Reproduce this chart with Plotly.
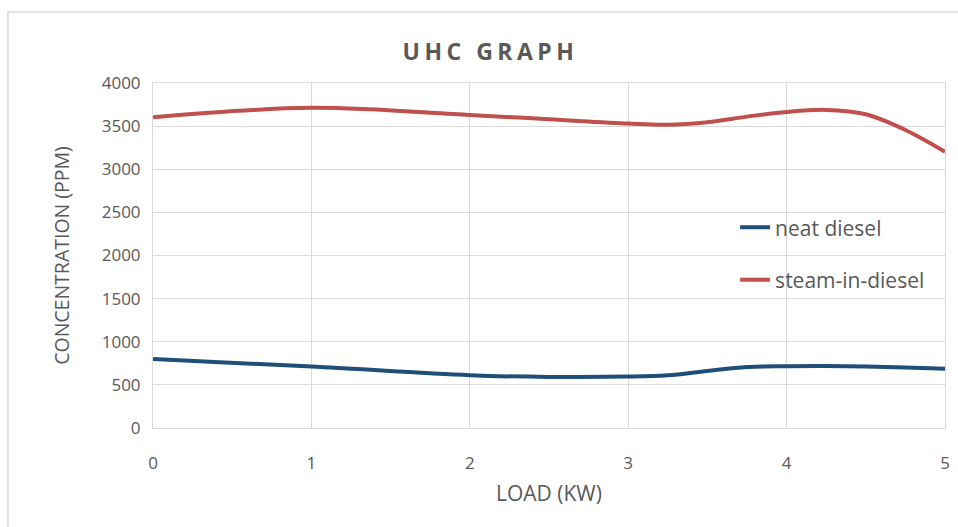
import plotly.graph_objects as go

# Data
load_kw = [0, 1, 2, 2.5, 3, 3.25, 3.5, 3.75, 4, 4.25, 4.5, 4.75, 5]
neat_diesel = [800, 712, 612, 592, 596, 612, 662, 706, 716, 718, 714, 702, 686]
steam_in_diesel = [3602, 3712, 3628, 3580, 3530, 3516, 3545, 3610, 3665, 3688, 3638, 3455, 3202]

x_ticks = [0, 1, 2, 3, 4, 5]
y_ticks = [0, 500, 1000, 1500, 2000, 2500, 3000, 3500, 4000]

grid = "#d9d9d9"
txt = "#595959"
font_family = "Open Sans, Noto Sans, sans-serif"

fig = go.Figure()
fig.add_trace(go.Scatter(
    x=load_kw, y=neat_diesel, name="neat diesel", mode="lines",
    line=dict(color="#1F4E79", width=4, shape="spline", smoothing=1.0),
    legendgroup="a",
))
fig.add_trace(go.Scatter(
    x=load_kw, y=steam_in_diesel, name="steam-in-diesel", mode="lines",
    line=dict(color="#C0504D", width=4, shape="spline", smoothing=1.0),
    legendgroup="b",
))

fig.update_layout(
    width=958, height=527,
    margin=dict(l=153, r=8, t=83, b=99),
    paper_bgcolor="white", plot_bgcolor="white",
    font=dict(family=font_family, color=txt, size=16),
    title=dict(text='<b><span style="letter-spacing:4.5px">UHC GRAPH</span></b>',
               x=0.512, xref="container", xanchor="center",
               y=1 - 52 / 527, yref="container", yanchor="middle",
               font=dict(size=23, color=txt, family=font_family)),
    showlegend=True,
    legend=dict(x=0.735, y=0.64, xanchor="left", yanchor="top",
                bgcolor="rgba(0,0,0,0)", font=dict(size=21, color=txt),
                tracegroupgap=22, itemwidth=30),
    xaxis=dict(range=[0, 5], tickvals=x_ticks, showgrid=True, gridcolor=grid, gridwidth=1,
               zeroline=False, showline=True, linecolor=grid, mirror=True,
               ticks="", ticklabelstandoff=20, tickfont=dict(size=17, color=txt),
               title=dict(text="LOAD (KW)", standoff=12, font=dict(size=21, color=txt))),
    yaxis=dict(range=[0, 4000], tickvals=y_ticks, showgrid=True, gridcolor=grid, gridwidth=1,
               zeroline=False, showline=True, linecolor=grid, mirror=True,
               ticks="", ticklabelstandoff=8, tickfont=dict(size=17, color=txt),
               title=dict(text="CONCENTRATION (PPM)", standoff=26, font=dict(size=19.5, color=txt))),
    shapes=[dict(type="rect", xref="paper", yref="paper",
                 x0=(7 - 153) / 797, x1=1.05, y0=-0.5, y1=(428 - 12) / 345,
                 line=dict(color=grid, width=1.5), fillcolor="rgba(0,0,0,0)", layer="below")],
)

fig.write_html("out.html")
